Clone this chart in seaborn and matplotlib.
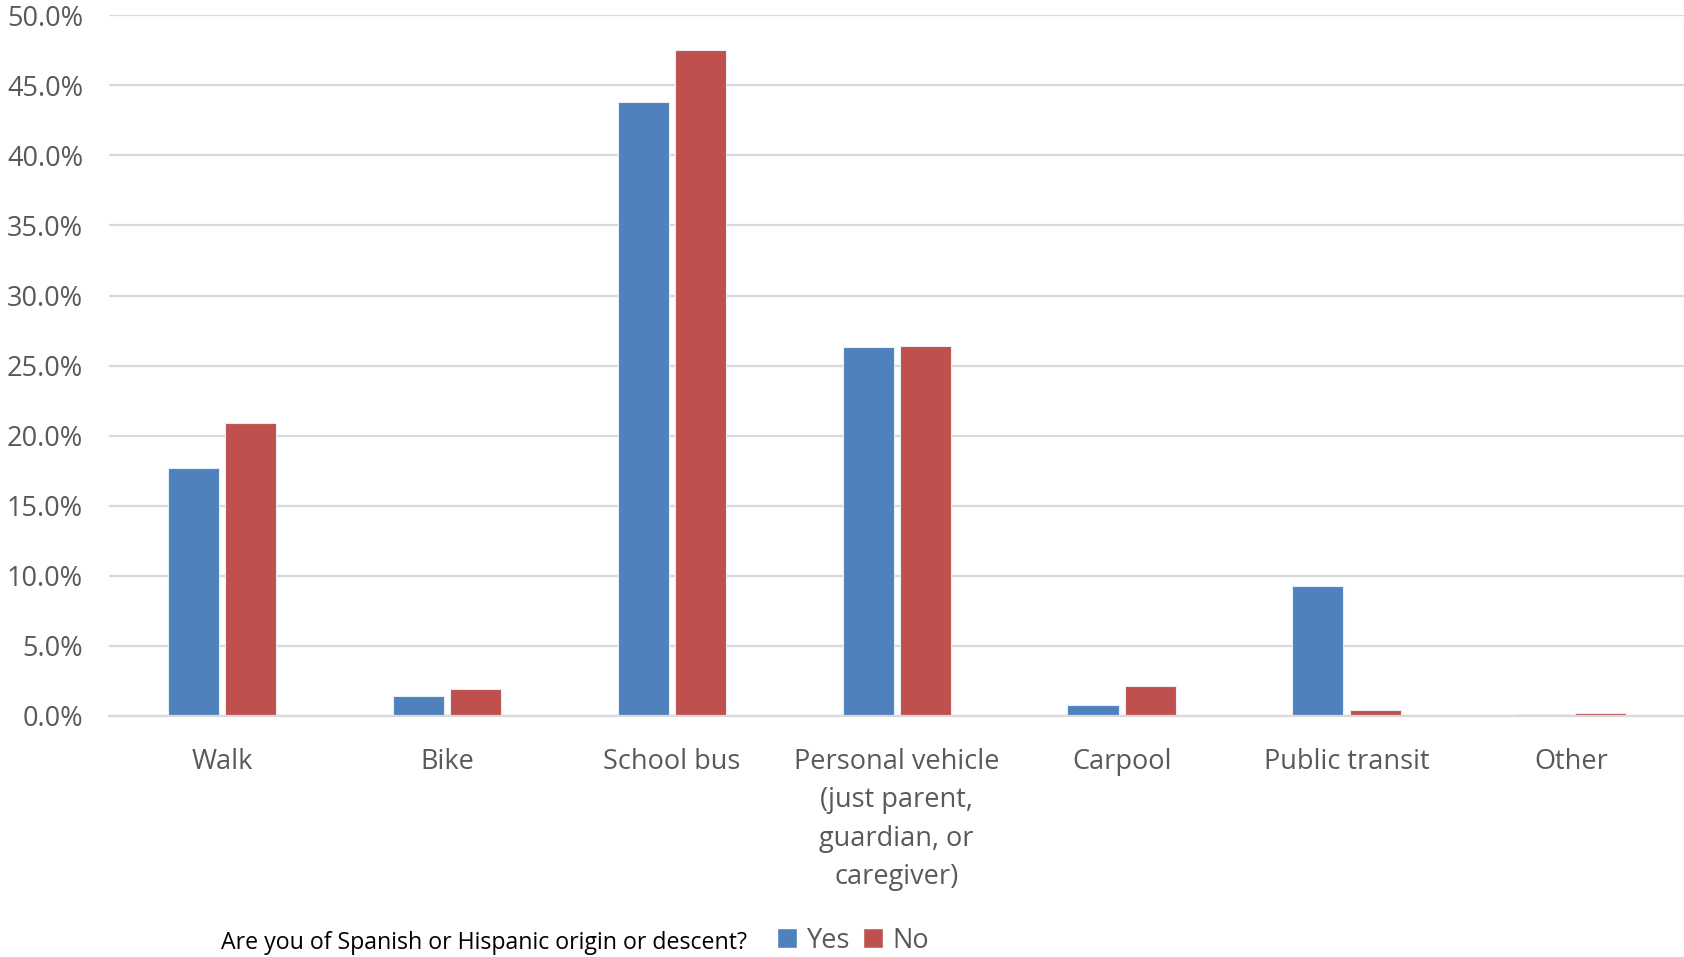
import pandas as pd
import matplotlib.pyplot as plt
import seaborn as sns
from matplotlib.ticker import PercentFormatter
from matplotlib.patches import Patch

# Chart data (share of respondents, %)
modes = ["Walk", "Bike", "School bus",
         "Personal vehicle\n(just parent,\nguardian, or\ncaregiver)",
         "Carpool", "Public transit", "Other"]
yes_pct = [17.7, 1.4, 43.8, 26.3, 0.8, 9.3, 0.1]
no_pct = [20.9, 1.9, 47.5, 26.4, 2.1, 0.4, 0.2]
groups = ["Yes", "No"]
colors = {"Yes": "#4F81BD", "No": "#C0504D"}

df = pd.DataFrame({
    "mode": modes * 2,
    "answer": ["Yes"] * len(modes) + ["No"] * len(modes),
    "pct": yes_pct + no_pct,
})

sns.set_style("white")
plt.rcParams["font.family"] = ["Open Sans", "DejaVu Sans"]

fig = plt.figure(figsize=(16.84, 9.57), dpi=100)
ax = fig.add_axes([0.065, 0.252, 0.935, 0.732])

sns.barplot(data=df, x="mode", y="pct", hue="answer", hue_order=groups,
            palette=colors, saturation=1, width=0.51, gap=0.11, ax=ax,
            edgecolor="#E8EEF6", linewidth=0.8, legend=False)

# Axes styling - Excel look
ax.set_ylim(0, 50)
ax.set_yticks(range(0, 51, 5))
ax.yaxis.set_major_formatter(PercentFormatter(decimals=1))
ax.set_xlim(-0.5, len(modes) - 0.5)
ax.grid(axis="y", color="#D9D9D9", linewidth=1.6)
ax.set_axisbelow(True)
for side in ["top", "right", "left"]:
    ax.spines[side].set_visible(False)
ax.spines["bottom"].set_color("#D9D9D9")
ax.spines["bottom"].set_linewidth(1.6)
ax.tick_params(axis="y", length=0, pad=19, labelsize=19.5, labelcolor="#595959")
ax.tick_params(axis="x", length=0, pad=23, labelsize=19.5, labelcolor="#595959")
ax.set_xlabel("")
ax.set_ylabel("")
for lbl in ax.get_xticklabels():
    lbl.set_linespacing(1.5)

# Legend at the bottom
fig.text(0.131, 0.015, "Are you of Spanish or Hispanic origin or descent?",
         fontsize=16.7, color="black", va="center")
handles = [Patch(facecolor=colors[g], label=g) for g in groups]
fig.legend(handles=handles, loc="center left", bbox_to_anchor=(0.447, 0.017),
           ncol=2, frameon=False, fontsize=19.5, labelcolor="#595959",
           handlelength=0.75, handleheight=0.75, handletextpad=0.35,
           columnspacing=0.45)

fig.savefig("out.png", dpi=100, facecolor="white")
